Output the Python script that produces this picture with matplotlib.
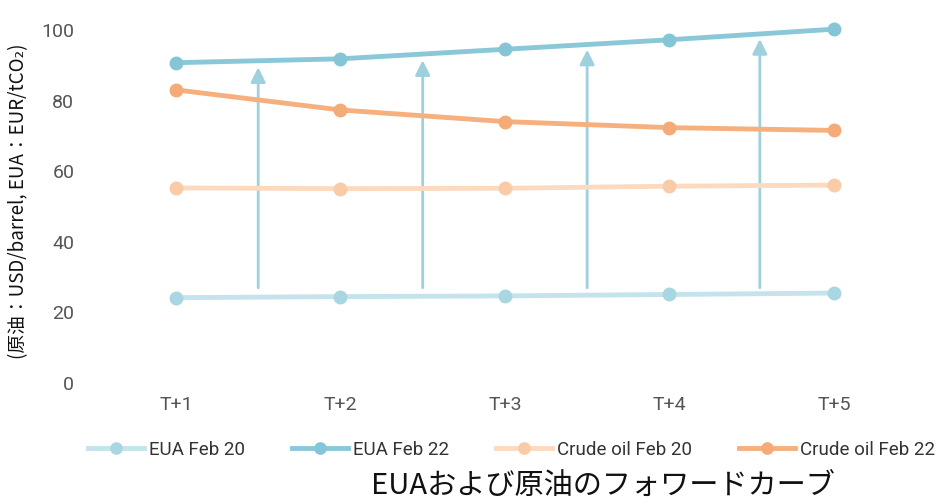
import matplotlib.pyplot as plt

plt.rcParams['font.family'] = ['Roboto', 'Noto Sans CJK JP', 'DejaVu Sans']

# data
periods = ['T+1', 'T+2', 'T+3', 'T+4', 'T+5']
eua_feb20 = [24.2, 24.5, 24.7, 25.1, 25.5]
eua_feb22 = [90.8, 91.9, 94.6, 97.3, 100.3]
oil_feb20 = [55.3, 55.1, 55.2, 55.8, 56.1]
oil_feb22 = [83.1, 77.4, 74.1, 72.4, 71.6]

# arrows showing the EUA rise (x position, start, end)
arrow_x = [1.5, 2.5, 3.5, 4.55]
arrow_start = [27, 27, 27, 27]
arrow_end = [89.5, 91.5, 94.5, 97.5]

fig = plt.figure(figsize=(9.42, 5.04), dpi=100)
ax = fig.add_axes([0.0995, 0.24, 0.873, 0.735])

x = list(range(1, len(periods) + 1))
ax.plot(x, eua_feb20, color='#c4e3ec', lw=3.5, marker='o', ms=9,
        mfc='#a9d6e3', mec='#a9d6e3', label='EUA Feb 20', zorder=3)
ax.plot(x, eua_feb22, color='#8ac8d8', lw=3.5, marker='o', ms=9,
        mfc='#86c5d6', mec='#86c5d6', label='EUA Feb 22', zorder=3)
ax.plot(x, oil_feb20, color='#fcdac0', lw=3.5, marker='o', ms=9,
        mfc='#f9cba7', mec='#f9cba7', label='Crude oil Feb 20', zorder=3)
ax.plot(x, oil_feb22, color='#f5b07e', lw=3.5, marker='o', ms=9,
        mfc='#f4ab78', mec='#f4ab78', label='Crude oil Feb 22', zorder=3)

for xa, y0, y1 in zip(arrow_x, arrow_start, arrow_end):
    ax.annotate('', xy=(xa, y1), xytext=(xa, y0),
                arrowprops=dict(arrowstyle='-|>', color='#9fd0dd', lw=2,
                                mutation_scale=22, shrinkA=0, shrinkB=0),
                zorder=2)

ax.set_xlim(0.5, 5.5)
ax.set_ylim(0, 105)
ax.set_xticks(x)
ax.set_xticklabels(periods)
ax.set_yticks([0, 20, 40, 60, 80, 100])
ax.tick_params(length=0, labelsize=14, colors='#555555', pad=9)
ax.tick_params(axis='y', pad=14)
for s in ax.spines.values():
    s.set_visible(False)

ax.set_ylabel('(原油：USD/barrel, EUA：EUR/tCO₂)', fontsize=13.5,
              color='#111111', family=['Noto Sans CJK JP', 'DejaVu Sans'])
ax.yaxis.set_label_coords(-0.078, 0.49)

leg = fig.legend(loc='center', bbox_to_anchor=(0.543, 0.108), ncol=4, frameon=False,
                 fontsize=13.5, handlelength=3.0, handletextpad=0.25,
                 columnspacing=2.5, markerscale=0.9)
for t in leg.get_texts():
    t.set_color('#333333')

fig.text(0.64, 0.006, 'EUAおよび原油のフォワードカーブ', ha='center', va='bottom',
         fontsize=21, color='#111111', family=['Noto Sans CJK JP', 'DejaVu Sans'])

fig.savefig('out.png', dpi=100)
